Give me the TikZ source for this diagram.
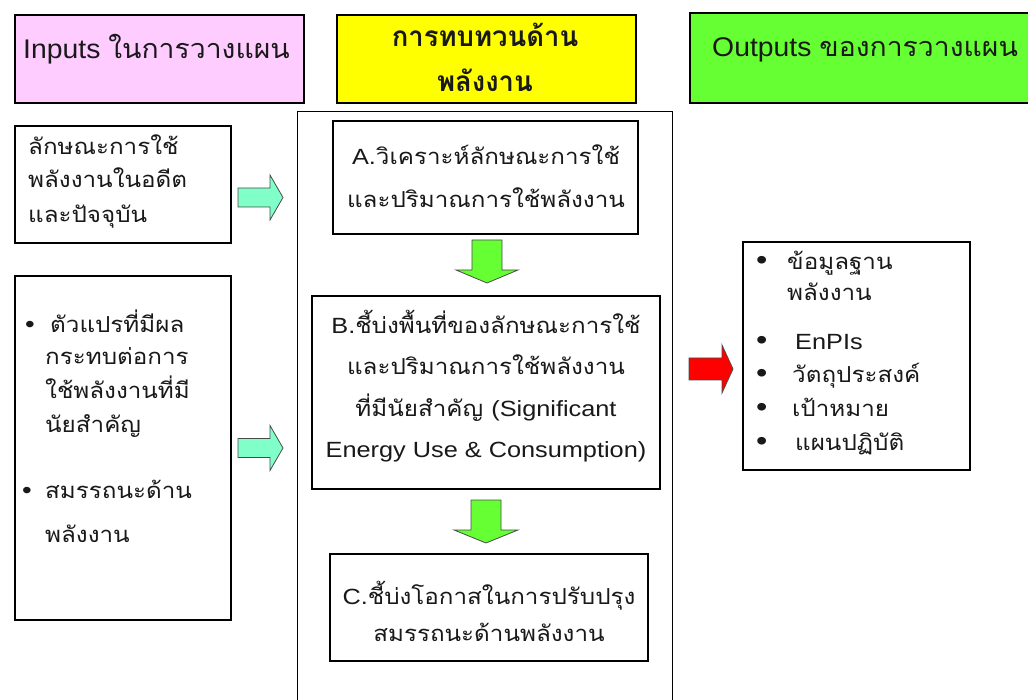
\documentclass[tikz,border=0pt]{standalone}
\usepackage{fontspec}
\setmainfont{Liberation Sans}
\newfontfamily\thaifont[Script=Thai,FakeStretch=1.1]{Loma}
\newfontfamily\latfont[FakeStretch=1.15]{Liberation Sans}
\newfontfamily\hdlat[FakeStretch=1.05]{Liberation Sans}
\newfontfamily\hdthai[Script=Thai,FakeStretch=1.05]{Loma}
\newfontfamily\hdthaib[Script=Thai,FakeStretch=0.98]{Loma Bold}
\definecolor{pinkhd}{RGB}{255,204,255}
\definecolor{yellowhd}{RGB}{255,255,0}
\definecolor{greenhd}{RGB}{102,255,51}
\definecolor{mint}{RGB}{128,255,200}
\definecolor{downgreen}{RGB}{102,255,51}
\definecolor{redarrow}{RGB}{255,0,0}
\definecolor{txt}{RGB}{25,25,25}
\tikzset{
  hdbox/.style={draw=black, line width=1.2pt, inner sep=0pt},
  plainbox/.style={draw=black, line width=1.1pt, inner sep=0pt},
  bodytext/.style={inner sep=0pt, text=txt, font=\thaifont\fontsize{22}{34}\selectfont},
  line/.style={bodytext, anchor=base west},
  bul/.style={inner sep=0pt, anchor=base west, text=txt, font=\latfont\fontsize{24}{30}\selectfont},
  bigbul/.style={inner sep=0pt, anchor=base west, text=txt, font=\latfont\fontsize{28}{30}\selectfont},
  blockarrow/.style={draw=black!70, line width=0.8pt, line join=miter},
}
% right block arrow: x1, x2, y, shaft half, head half, head length, colour
\newcommand\rarrow[7]{%
  \filldraw[blockarrow, fill=#7] (#1,#3-#4) -- (#2-#6,#3-#4) -- (#2-#6,#3-#5) -- (#2,#3)
    -- (#2-#6,#3+#5) -- (#2-#6,#3+#4) -- (#1,#3+#4) -- cycle;}
% down block arrow: x, y1, y2, shaft half, head half, head length, colour
\newcommand\darrow[7]{%
  \filldraw[blockarrow, fill=#7] (#1-#4,#2) -- (#1+#4,#2) -- (#1+#4,#3-#6) -- (#1+#5,#3-#6)
    -- (#1,#3) -- (#1-#5,#3-#6) -- (#1-#4,#3-#6) -- cycle;}
\begin{document}
\begin{tikzpicture}[x=1pt,y=-1pt]
\useasboundingbox (0,0) rectangle (1028,700);
\fill[white] (0,0) rectangle (1028,700);

% headers
\node[hdbox, fill=pinkhd, minimum width=289pt, minimum height=88pt] (hin) at (159.5,59) {};
\node[inner sep=0pt, anchor=base west, text=txt, font=\fontsize{27}{34}\selectfont] (hintxt) at (23,59) {\hdlat Inputs {\hdthai ในการวางแผน}};
\node[hdbox, fill=yellowhd, minimum width=299pt, minimum height=88pt] (hrev) at (486.5,59) {};
\node[inner sep=0pt, anchor=base, text=txt, font=\hdthaib\fontsize{28}{34}\selectfont] (hrev1) at (485,47) {การทบทวนด้าน};
\node[inner sep=0pt, anchor=base, text=txt, font=\hdthaib\fontsize{28}{34}\selectfont] (hrev2) at (485,92) {พลังงาน};
\node[hdbox, fill=greenhd, minimum width=350pt, minimum height=90pt] (hout) at (865,58) {};
\node[inner sep=0pt, anchor=base west, text=txt, font=\fontsize{27}{34}\selectfont] (houttxt) at (712,57) {\hdlat Outputs {\hdthai ของการวางแผน}};

% left boxes
\node[plainbox, minimum width=216pt, minimum height=117pt] (in1) at (123,184.5) {};
\node[line] (in1a) at (28,155) {ลักษณะการใช้};
\node[line] (in1b) at (28,188) {พลังงานในอดีต};
\node[line] (in1c) at (28,223) {และปัจจุบัน};
\node[plainbox, minimum width=216pt, minimum height=344pt] (in2) at (123,448) {};
\node[bul] (b1) at (25,333) {•};
\node[line] (in2a) at (50,333) {ตัวแปรที่มีผล};
\node[line] (in2b) at (45,365) {กระทบต่อการ};
\node[line] (in2c) at (45,399) {ใช้พลังงานที่มี};
\node[line] (in2d) at (45,432) {นัยสำคัญ};
\node[bul] (b2) at (22,498) {•};
\node[line] (in2e) at (45,498) {สมรรถนะด้าน};
\node[line] (in2f) at (45,542) {พลังงาน};

% central frame
\node[plainbox, minimum width=375pt, minimum height=600pt, anchor=north west] (frame) at (297,111) {};
\node[plainbox, minimum width=305pt, minimum height=113pt] (boxA) at (485.5,177.5) {};
\node[bodytext, align=center, font=\thaifont\fontsize{22}{43}\selectfont] (boxAtxt) at (486,176) {{\latfont A.}วิเคราะห์ลักษณะการใช้\\และปริมาณการใช้พลังงาน};
\node[plainbox, minimum width=348pt, minimum height=193pt] (boxB) at (486,392.5) {};
\node[bodytext, align=center, font=\thaifont\fontsize{22}{41.5}\selectfont] (boxBtxt) at (486,386) {{\latfont B.}ชี้บ่งพื้นที่ของลักษณะการใช้\\และปริมาณการใช้พลังงาน\\ที่มีนัยสำคัญ {\latfont (Significant}\\{\latfont Energy Use \& Consumption)}};
\node[plainbox, minimum width=318pt, minimum height=107pt] (boxC) at (489,607.5) {};
\node[bodytext, align=center, font=\thaifont\fontsize{22}{37}\selectfont] (boxCtxt) at (489,611) {{\latfont C.}ชี้บ่งโอกาสในการปรับปรุง\\สมรรถนะด้านพลังงาน};

% output box
\node[plainbox, minimum width=227pt, minimum height=228pt] (outbox) at (856.5,356) {};
\node[bigbul] (ob1) at (756,270) {•};
\node[line] (ot1a) at (787,270) {ข้อมูลฐาน};
\node[line] (ot1b) at (787,301) {พลังงาน};
\node[bigbul] (ob2) at (756,350) {•};
\node[line] (ot2) at (795,350) {\latfont EnPIs};
\node[bigbul] (ob3) at (756,383) {•};
\node[line] (ot3) at (792,383) {วัตถุประสงค์};
\node[bigbul] (ob4) at (756,417) {•};
\node[line] (ot4) at (792,417) {เป้าหมาย};
\node[bigbul] (ob5) at (756,450) {•};
\node[line] (ot5) at (795,450) {แผนปฏิบัติ};

% block arrows
\rarrow{238}{283}{197.5}{9.5}{22.5}{13}{mint}
\rarrow{238}{283}{448}{9.5}{22.5}{13}{mint}
\darrow{487}{240}{283}{15}{31}{13}{downgreen}
\darrow{486}{500}{543}{15}{32}{13}{downgreen}
\rarrow{689}{733}{369}{11}{24}{11}{redarrow}
\end{tikzpicture}
\end{document}
